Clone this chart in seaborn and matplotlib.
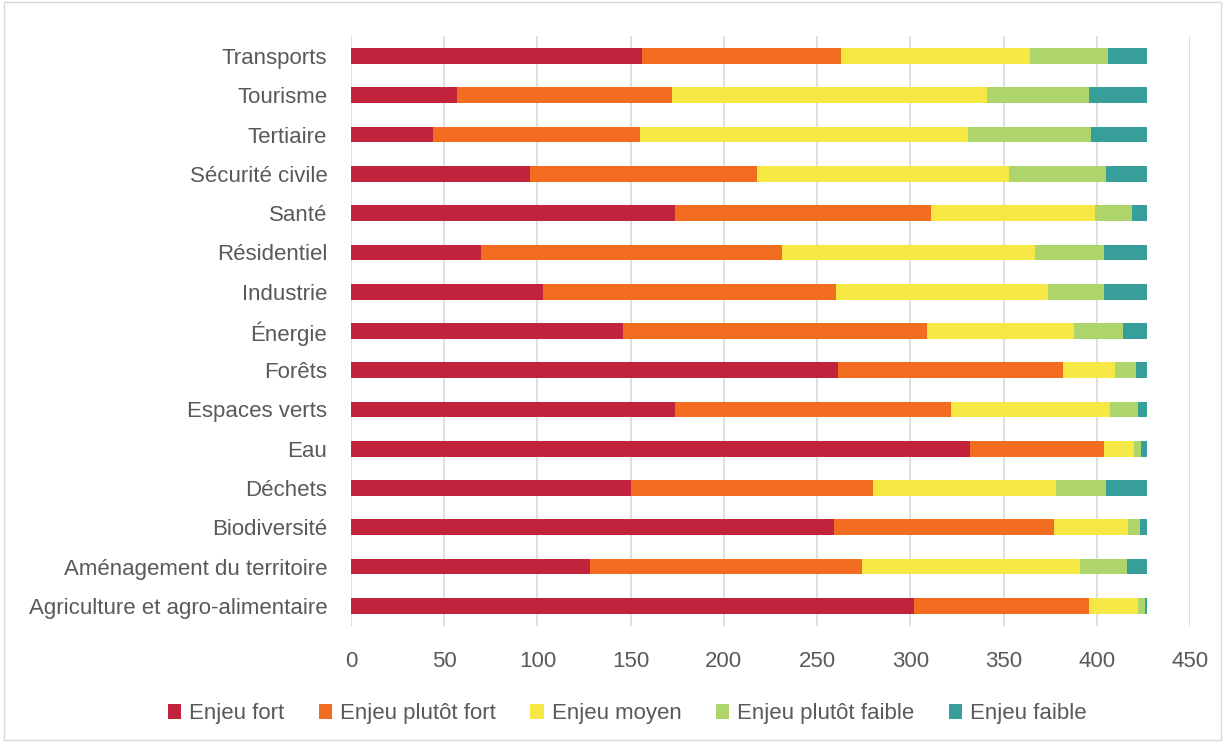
import pandas as pd
import matplotlib.pyplot as plt
import seaborn as sns
import numpy as np

sns.set_theme(style="white")
plt.rcParams["font.family"] = ["Liberation Sans", "DejaVu Sans"]

secteurs = ["Transports", "Tourisme", "Tertiaire", "Sécurité civile", "Santé",
            "Résidentiel", "Industrie", "Énergie", "Forêts", "Espaces verts",
            "Eau", "Déchets", "Biodiversité", "Aménagement du territoire",
            "Agriculture et agro-alimentaire"]
niveaux = ["Enjeu fort", "Enjeu plutôt fort", "Enjeu moyen",
           "Enjeu plutôt faible", "Enjeu faible"]

enjeu_fort = [156, 57, 44, 96, 174, 70, 103, 146, 261, 174, 332, 150, 259, 128, 302]
enjeu_plutot_fort = [107, 115, 111, 122, 137, 161, 157, 163, 121, 148, 72, 130, 118, 146, 94]
enjeu_moyen = [101, 169, 176, 135, 88, 136, 114, 79, 28, 85, 16, 98, 40, 117, 26]
enjeu_plutot_faible = [42, 55, 66, 52, 20, 37, 30, 26, 11, 15, 4, 27, 6, 25, 4]
enjeu_faible = [21, 31, 30, 22, 8, 23, 23, 13, 6, 5, 3, 22, 4, 11, 1]

couleurs = ["#C1223C", "#F36D21", "#F5E844", "#AED46C", "#389E9A"]

df = pd.DataFrame({
    "secteur": secteurs,
    niveaux[0]: enjeu_fort,
    niveaux[1]: enjeu_plutot_fort,
    niveaux[2]: enjeu_moyen,
    niveaux[3]: enjeu_plutot_faible,
    niveaux[4]: enjeu_faible,
})
cumul = df[niveaux].cumsum(axis=1)

fig = plt.figure(figsize=(12.25, 7.42), dpi=100)
ax = fig.add_axes([0.2865, 0.157, 0.6849, 0.794])

# empilement : on trace les cumuls du plus grand au plus petit
for niveau, couleur in reversed(list(zip(niveaux, couleurs))):
    sns.barplot(x=cumul[niveau], y=df["secteur"], color=couleur, width=0.4,
                orient="h", ax=ax, label=niveau, saturation=1, linewidth=0)

ax.set_xlim(0, 450)
ax.set_xticks(np.arange(0, 451, 50))
ax.set_xlabel("")
ax.set_ylabel("")
ax.grid(axis="x", color="#D9D9D9", linewidth=1.2)
ax.set_axisbelow(True)
for s in ax.spines.values():
    s.set_visible(False)
ax.tick_params(axis="x", length=0, pad=18, labelsize=16, labelcolor="#595959")
ax.tick_params(axis="y", length=0, pad=17, labelsize=16, labelcolor="#595959")

handles, labels = ax.get_legend_handles_labels()
ax.get_legend().remove()
order = [labels.index(n) for n in niveaux]
fig.legend([handles[i] for i in order], niveaux, loc="center", ncol=5,
           bbox_to_anchor=(0.512, 0.038), frameon=False, fontsize=16,
           labelcolor="#595959", handlelength=0.6, handleheight=0.6,
           handletextpad=0.35, columnspacing=1.55)

fig.patches.append(plt.Rectangle((0.003, 0.003), 0.994, 0.994, transform=fig.transFigure,
                                 fill=False, edgecolor="#D9D9D9", linewidth=1))

plt.savefig("out.png", dpi=100)
